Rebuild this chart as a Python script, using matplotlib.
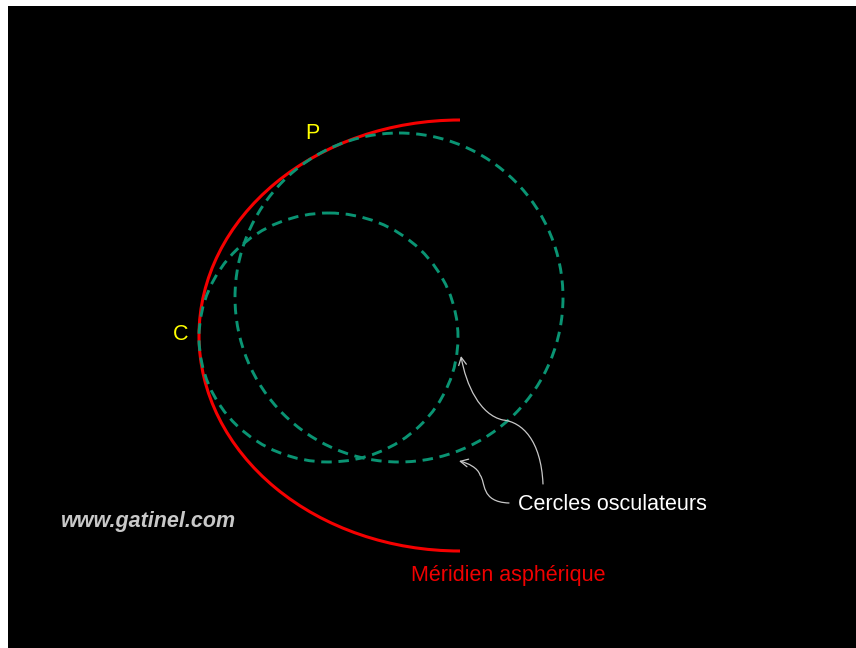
import matplotlib
matplotlib.use("Agg")
import matplotlib.pyplot as plt
from matplotlib.patches import Arc, Ellipse, FancyArrowPatch, Rectangle
from matplotlib.path import Path

# Values, in pixels of the 856x648 image
panel_left = 8
panel_top = 6

meridian_center = (460, 335.5)
meridian_size = (522, 431)

circle_centers = [(399, 297.5), (328.5, 337.5)]
circle_sizes = [(328, 329), (259, 249)]

arrow_big = [(543, 484), (541, 440), (522, 422), (503, 420), (480, 415), (466, 385), (461, 356)]
arrow_small = [(509, 503), (480, 502), (486, 482), (480, 475), (478, 468), (468, 463), (459, 461)]

labels = ["C", "P", "Cercles osculateurs", "Méridien asphérique", "www.gatinel.com"]
label_xy = [(181, 334.5), (312.5, 133.5), (612.5, 504), (508.5, 575.5), (149, 521.5)]
label_sizes = [15.5, 15.5, 15.5, 15.5, 15.5]
label_colors = ["#ffff00", "#ffff00", "#ffffff", "#f00000", "#c8c8c8"]

plt.rcParams['font.family'] = ['Liberation Sans', 'DejaVu Sans']

fig = plt.figure(figsize=(8.56, 6.48), dpi=100, facecolor="white")
ax = fig.add_axes([0, 0, 1, 1])
ax.set_xlim(0, 856)
ax.set_ylim(648, 0)
ax.axis("off")

# Black slide, with the white strip on the top and left
ax.add_patch(Rectangle((panel_left, panel_top), 856 - panel_left, 648 - panel_top,
                       facecolor="black", edgecolor="none", zorder=0))

# Red meridian: left half of an ellipse
ax.add_patch(Arc(meridian_center, meridian_size[0], meridian_size[1], theta1=90, theta2=270,
                 color="#f50000", lw=2.2, zorder=2))

# Osculating circles
for center, size in zip(circle_centers, circle_sizes):
    ax.add_patch(Ellipse(center, size[0], size[1], fill=False, edgecolor="#0a9473",
                         lw=2.1, linestyle=(0, (3.6, 2.3)), zorder=3))

# Curved white arrows
codes = [Path.MOVETO] + [Path.CURVE4] * 6
for pts in [arrow_big, arrow_small]:
    ax.add_patch(FancyArrowPatch(path=Path(pts, codes), arrowstyle="->,head_length=5.5,head_width=2.8",
                                 color="#c8c8c8", lw=0.9, shrinkA=0, shrinkB=0, zorder=4))

for text, xy, size, color in zip(labels, label_xy, label_sizes, label_colors):
    is_url = text.startswith("www")
    ax.text(xy[0], xy[1], text, color=color, fontsize=size, ha="center", va="center",
            fontweight="bold" if is_url else "normal",
            fontstyle="italic" if is_url else "normal", zorder=5)

fig.savefig("out.png", dpi=100, facecolor=fig.get_facecolor())
